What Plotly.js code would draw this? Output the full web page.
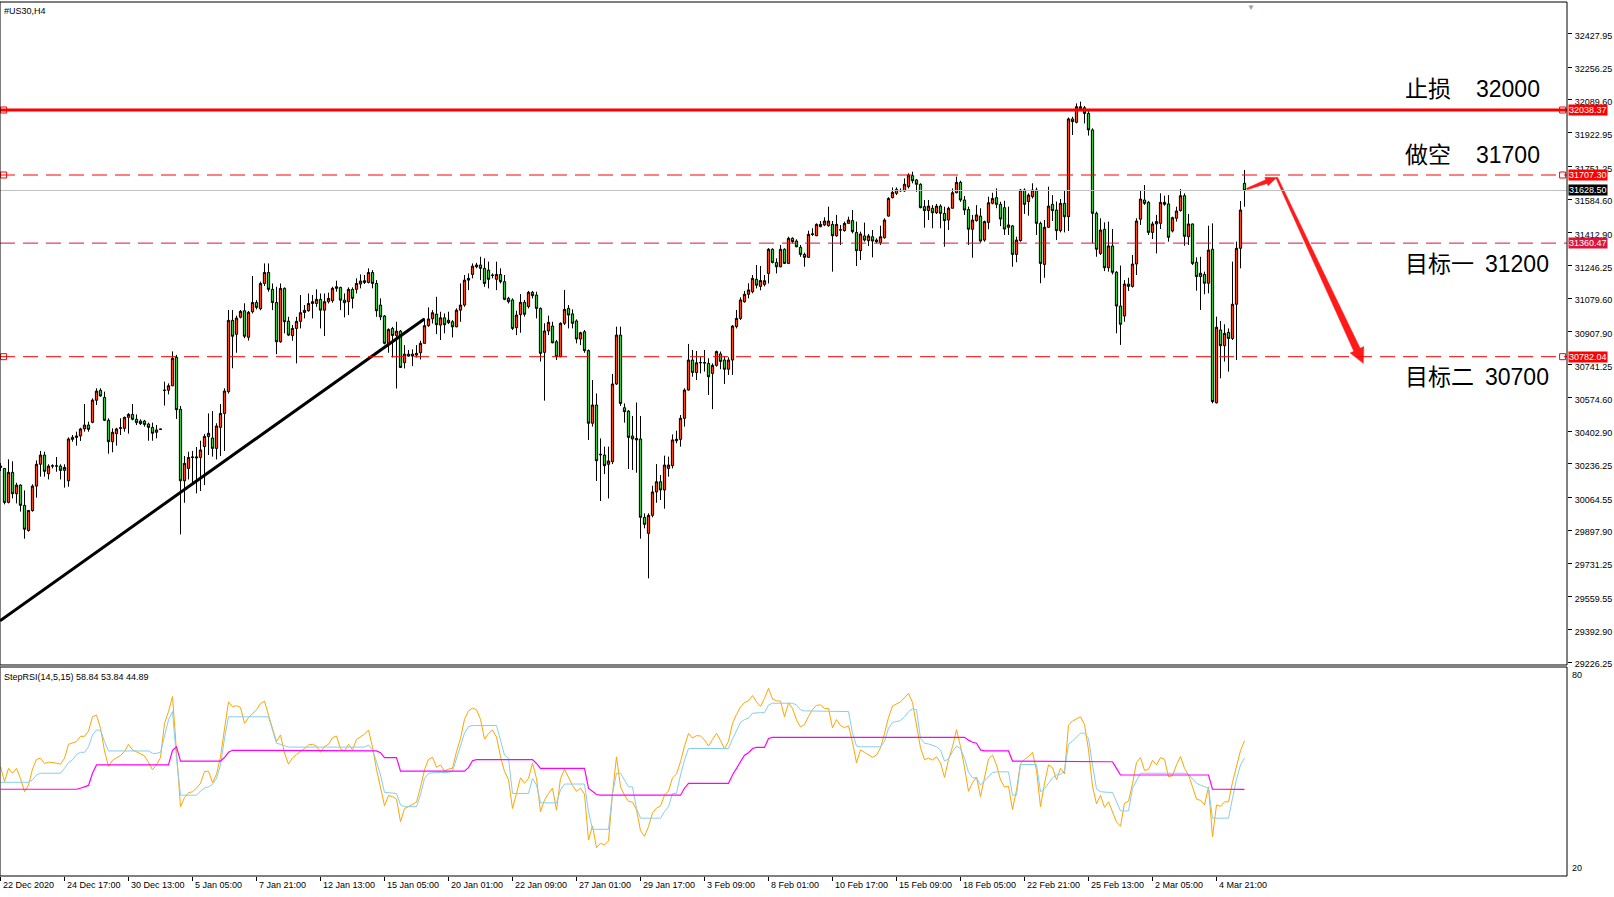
<!DOCTYPE html>
<html><head><meta charset="utf-8">
<script src="https://cdn.plot.ly/plotly-3.0.1.min.js"></script>
<style>html,body{margin:0;padding:0;background:#fff;overflow:hidden}#chart{width:1614px;height:897px}</style>
</head><body><div id="chart"></div>
<script>
// ---------- DATA ----------
const SYMBOL = "#US30,H4";
const OPEN = [
30225,30213,30040,30193,30084,30128,30025,29897,29998,30123,
30234,30281,30186,30225,30226,30225,30203,30150,30361,30371,
30378,30414,30434,30448,30560,30611,30575,30458,30349,30390,
30417,30417,30473,30488,30463,30454,30454,30439,30422,30397,
30412,30610,30611,30634,30779,30514,30150,30213,30269,30266,
30269,30324,30375,30368,30315,30422,30493,30604,30967,30896,
30983,31016,30881,31011,31058,31026,31155,31211,31125,31058,
30858,31130,30963,30889,30926,30962,31007,31016,31053,31053,
31074,31019,31062,31067,31130,31135,31070,31062,31125,31125,
31152,31160,31160,31211,31155,31045,30989,30850,30926,30890,
30912,30751,30785,30785,30790,30802,30850,30940,30975,30999,
30943,30980,30955,30960,30934,31019,31045,31172,31201,31240,
31249,31232,31223,31198,31176,31201,31164,31079,31071,30930,
30996,31059,31037,31110,31096,31028,30804,30913,30938,30858,
30782,30952,31028,31000,30964,30872,30909,30813,30443,30536,
30285,30281,30234,30247,30643,30892,30522,30505,30378,30366,
30363,29964,29882,29974,30093,30145,30103,30213,30227,30354,
30361,30468,30612,30765,30701,30751,30752,30748,30697,30738,
30796,30765,30718,30765,30935,30977,31062,31100,31113,31176,
31140,31150,31206,31329,31262,31240,31329,31257,31385,31371,
31339,31303,31288,31405,31398,31444,31453,31449,31456,31398,
31427,31424,31461,31475,31415,31322,31397,31373,31393,31376,
31363,31388,31498,31592,31614,31627,31626,31648,31704,31682,
31660,31546,31526,31538,31515,31549,31512,31478,31538,31617,
31670,31580,31532,31431,31475,31498,31376,31466,31563,31592,
31558,31541,31441,31448,31303,31373,31631,31572,31597,31631,
31461,31252,31441,31558,31529,31424,31563,31495,31993,31976,
32044,32050,32021,31937,31512,31308,31431,31235,31346,31212,
31040,30989,31152,31140,31254,31482,31580,31568,31415,31458,
31461,31568,31560,31422,31487,31526,31602,31393,31458,31263,
31190,31201,31156,31329,30547,30918,30838,30906,30875,31049,
31334,31665];
const HIGH = [
30240,30213,30259,30249,30140,30132,30101,30000,30132,30254,
30302,30298,30234,30234,30271,30234,30234,30371,30383,30400,
30420,30541,30451,30570,30621,30621,30604,30468,30417,30420,
30468,30477,30495,30541,30488,30463,30460,30446,30446,30434,
30415,30655,30646,30809,30791,30531,30276,30298,30302,30322,
30354,30388,30493,30505,30443,30541,30621,31020,31020,30991,
31020,31054,31015,31193,31070,31164,31257,31257,31155,31138,
31155,31135,30985,30943,30985,31096,31045,31104,31096,31125,
31104,31104,31108,31138,31169,31138,31104,31135,31135,31181,
31201,31198,31232,31223,31172,31079,30994,30926,30934,30960,
30918,30841,30816,30819,30841,30863,30977,31033,31019,31087,
31011,31002,31011,30968,31028,31155,31198,31206,31257,31260,
31291,31283,31266,31206,31266,31232,31198,31087,31079,31016,
31101,31071,31117,31117,31113,31033,30952,30991,30960,30867,
30957,31122,31045,31023,30972,30909,30918,30819,30663,30595,
30366,30324,30324,30694,30935,30935,30544,30510,30480,30549,
30480,29984,29984,30125,30235,30179,30278,30273,30386,30405,
30485,30621,30847,30816,30811,30782,30816,30774,30748,30813,
30808,30785,30779,30943,31020,31084,31117,31156,31198,31249,
31244,31198,31335,31334,31283,31351,31334,31393,31390,31380,
31351,31312,31424,31436,31461,31473,31492,31546,31473,31504,
31453,31470,31495,31529,31470,31419,31465,31407,31427,31385,
31449,31487,31594,31644,31644,31639,31690,31716,31724,31687,
31665,31580,31580,31554,31560,31558,31546,31546,31639,31699,
31678,31600,31546,31504,31554,31538,31475,31597,31617,31639,
31571,31576,31546,31453,31393,31636,31639,31614,31665,31643,
31470,31478,31648,31605,31572,31585,31628,32000,32004,32072,
32081,32059,32033,31945,31521,31487,31466,31470,31432,31218,
31246,31172,31184,31300,31487,31626,31656,31575,31470,31504,
31614,31602,31605,31495,31546,31636,31614,31509,31460,31288,
31291,31215,31449,31461,30986,30964,30947,30926,31266,31368,
31575,31733];
const LOW = [
30200,30030,30035,30060,30035,29993,29855,29891,29993,30064,
30171,30171,30157,30213,30196,30157,30115,30120,30349,30329,
30353,30400,30400,30443,30536,30578,30454,30288,30295,30329,
30383,30400,30390,30458,30434,30434,30426,30354,30354,30366,
30410,30533,30590,30632,30465,29877,30038,30157,30137,30086,
30098,30128,30281,30273,30259,30276,30302,30594,30723,30802,
30977,30876,30864,31002,31023,31019,31142,31113,31019,30795,
30853,30901,30887,30863,30748,30926,30977,31011,30977,31036,
30926,30887,31053,31057,31113,31019,30982,30994,31028,31104,
31130,31152,31155,31130,30985,30968,30845,30802,30778,30620,
30725,30722,30782,30734,30778,30768,30850,30934,30951,30897,
30867,30901,30948,30880,30932,30960,31036,31121,31181,31232,
31172,31138,31130,31181,31121,31155,31070,31053,30918,30892,
30904,30986,31028,31079,30977,30757,30558,30892,30850,30765,
30779,30943,30926,30926,30850,30841,30802,30358,30426,30149,
30047,30184,30060,30235,30638,30531,30446,30210,30205,30191,
29855,29908,29653,29964,30038,30052,30008,30171,30213,30341,
30324,30426,30609,30680,30663,30697,30706,30587,30515,30731,
30718,30643,30689,30689,30926,30969,31057,31079,31105,31130,
31120,31140,31155,31257,31206,31237,31254,31254,31359,31339,
31291,31240,31285,31397,31396,31441,31447,31444,31215,31393,
31351,31419,31458,31410,31244,31274,31368,31346,31288,31359,
31351,31383,31495,31588,31605,31622,31622,31639,31665,31622,
31538,31439,31478,31436,31509,31436,31342,31427,31538,31614,
31571,31504,31351,31286,31470,31363,31368,31431,31558,31538,
31447,31402,31402,31240,31263,31368,31509,31500,31588,31402,
31156,31184,31439,31473,31376,31415,31415,31422,31911,31970,
32033,31970,31908,31359,31291,31300,31218,31215,31201,30901,
30842,30960,31117,31134,31198,31453,31555,31402,31381,31308,
31432,31551,31368,31415,31470,31521,31347,31351,31249,31118,
31020,31100,31105,30544,30544,30672,30757,30706,30867,30765,
31232,31546];
const CLOSE = [
30218,30040,30193,30084,30128,30025,29903,29999,30123,30234,
30281,30198,30225,30226,30225,30203,30218,30363,30371,30378,
30414,30434,30412,30561,30607,30582,30458,30349,30397,30414,
30420,30473,30488,30463,30446,30441,30437,30422,30392,30409,
30413,30611,30634,30774,30512,30150,30239,30269,30271,30271,
30307,30376,30392,30315,30429,30493,30607,30967,30886,30979,
31013,30886,31008,31058,31033,31155,31211,31125,31058,30858,
31130,30960,30892,30926,30962,31006,31018,31053,31062,31074,
31019,31062,31079,31130,31138,31070,31057,31125,31079,31155,
31167,31169,31211,31155,31016,30985,30850,30921,30890,30912,
30727,30795,30795,30795,30799,30850,30940,30974,31006,30945,
30980,30945,30968,30934,31019,31045,31172,31181,31243,31249,
31232,31155,31176,31196,31201,31164,31074,31062,30926,30994,
31059,30998,31110,31093,31028,30799,30913,30957,30853,30782,
30952,31023,30994,30952,30872,30904,30813,30443,30536,30252,
30283,30227,30251,30643,30892,30544,30502,30371,30363,30358,
29964,29928,29974,30093,30145,30103,30230,30230,30358,30361,
30468,30612,30765,30702,30751,30752,30750,30680,30738,30808,
30758,30718,30765,30938,30977,31071,31100,31122,31181,31146,
31170,31169,31329,31262,31240,31329,31257,31385,31368,31342,
31303,31288,31405,31407,31456,31456,31473,31473,31398,31456,
31428,31461,31478,31419,31322,31407,31376,31397,31371,31368,
31393,31478,31588,31619,31634,31628,31660,31707,31678,31660,
31541,31526,31549,31515,31549,31512,31475,31538,31617,31670,
31580,31529,31431,31478,31504,31371,31470,31566,31588,31558,
31483,31432,31453,31303,31376,31631,31558,31605,31631,31461,
31257,31441,31549,31526,31424,31563,31495,31993,31979,32055,
32055,32021,31937,31512,31329,31427,31235,31346,31212,31040,
30947,31152,31140,31254,31473,31585,31563,31415,31458,31470,
31568,31558,31390,31490,31524,31602,31395,31458,31257,31190,
31207,31156,31325,30553,30932,30838,30901,30875,31049,31334,
31529,31628.5];

// StepRSI(14,5,15) buffers
const RSI_FAST = [
51.4,47.1,50.9,49.5,50.9,48.0,44.2,46.1,50.7,53.5,
53.8,52.3,52.7,52.6,52.4,52.1,53.8,57.8,58.1,58.6,
60.1,60.1,61.6,65.7,66.2,62.4,55.9,51.5,53.2,54.0,
54.6,55.7,57.8,56.2,55.6,55.2,54.5,52.6,50.5,51.9,
54.0,63.8,67.2,71.5,54.3,39.9,42.5,43.9,44.2,45.2,
46.6,50.0,50.1,46.8,49.2,54.2,62.2,70.0,68.6,68.9,
68.4,63.8,65.5,66.7,67.7,69.5,70.2,66.2,62.4,58.6,
60.5,55.3,52.1,53.9,54.9,55.7,56.6,57.6,57.8,57.3,
55.5,57.2,57.8,59.7,60.2,56.5,55.9,57.8,56.2,59.2,
60.0,60.7,61.9,57.0,50.6,45.5,40.2,43.1,42.8,42.1,
35.6,39.3,39.9,40.4,41.2,45.5,50.5,53.5,54.1,51.2,
51.9,50.1,50.7,50.9,55.7,59.5,65.0,67.4,68.2,67.7,
65.0,59.3,60.9,61.9,59.9,54.3,50.0,47.7,39.4,43.7,
48.2,46.6,48.0,52.4,48.0,38.5,41.8,43.7,45.2,38.9,
48.0,50.6,48.2,46.0,44.3,45.2,43.5,30.3,34.4,28.1,
29.4,28.9,30.1,43.7,54.2,45.6,43.2,41.4,41.2,39.0,
33.0,31.4,34.2,38.1,39.5,40.1,43.2,44.4,48.2,49.3,
52.8,57.3,60.9,59.6,60.3,60.2,59.1,57.3,59.2,61.0,
58.9,56.5,58.7,63.8,66.4,68.5,69.8,70.3,71.8,70.0,
68.7,71.0,73.9,70.8,70.3,70.2,65.7,69.7,68.1,64.8,
62.8,63.5,65.8,67.8,69.0,69.1,68.1,68.1,62.5,64.9,
63.2,62.6,63.1,58.4,52.5,56.2,55.5,54.9,54.1,54.7,
56.8,60.9,65.5,68.8,69.3,70.0,71.2,72.4,69.8,63.7,
56.8,53.4,53.8,53.3,54.2,52.5,48.3,53.4,57.1,62.0,
57.2,51.2,44.3,46.8,48.4,42.8,48.0,53.6,54.7,51.9,
47.6,45.5,45.8,39.1,44.7,52.3,53.5,54.3,55.5,50.3,
39.9,46.6,51.9,51.1,47.6,50.9,49.3,63.3,64.5,65.1,
65.7,63.5,56.2,45.8,40.7,43.2,39.7,41.3,38.2,35.5,
34.3,40.9,41.5,46.5,52.6,54.0,50.3,50.6,53.2,51.9,
54.0,53.5,48.5,48.8,51.9,54.3,50.9,49.0,45.6,42.1,
41.7,40.4,45.6,31.3,40.4,40.0,41.3,41.3,46.9,51.7,
56.0,58.84];
const RSI_STEP_FAST = [
46.9,46.9,46.9,46.9,46.9,46.9,46.9,46.9,47.6,49.0,
49.5,49.5,49.5,49.5,49.5,49.5,50.9,52.6,53.3,54.9,
55.5,55.5,57.1,60.5,61.9,61.9,58.6,55.9,55.9,55.9,
55.9,55.9,55.9,55.9,55.9,55.9,55.9,55.9,55.2,55.2,
55.5,60.0,64.8,67.2,53.8,43.2,43.2,43.2,43.2,43.2,
44.4,45.2,45.6,46.3,48.0,51.9,59.5,65.7,65.7,65.7,
65.7,65.7,65.7,65.7,65.7,65.7,65.7,65.7,61.9,58.1,
57.8,57.3,57.0,57.0,57.0,57.0,57.0,57.0,57.0,57.0,
57.0,57.0,57.0,57.0,57.0,57.0,57.0,57.0,57.0,57.0,
57.0,57.0,57.6,56.2,52.8,49.0,44.0,43.9,43.9,43.7,
40.4,39.9,39.9,39.9,39.9,43.3,48.0,49.5,49.7,49.7,
49.7,49.7,49.7,50.1,53.8,57.6,61.0,62.9,63.2,63.2,
63.2,63.2,63.2,63.2,63.2,59.0,54.7,53.8,43.7,43.7,
43.7,43.7,43.7,48.0,46.1,41.0,41.0,41.0,41.0,41.0,
44.7,46.4,46.4,46.4,46.4,46.4,46.4,38.5,33.4,33.4,
33.4,33.4,33.4,43.7,49.5,49.5,47.6,45.6,45.6,39.4,
36.6,36.6,36.6,36.6,36.6,36.6,38.5,39.9,43.7,43.7,
49.0,53.3,56.6,56.6,56.6,56.6,56.6,56.6,56.6,56.6,
56.6,56.6,56.6,59.3,61.7,64.1,64.9,65.3,66.7,66.9,
66.9,66.9,69.1,69.6,69.6,69.6,69.6,69.6,69.6,69.1,
67.7,67.4,67.4,67.4,67.4,67.4,67.4,67.4,67.4,67.4,
67.4,67.4,67.2,61.0,57.3,57.1,57.1,57.1,57.1,57.1,
57.1,58.6,62.4,64.1,64.3,64.6,65.7,67.2,68.0,67.7,
59.5,58.1,57.9,57.6,57.1,56.2,53.0,53.6,55.7,57.3,
56.6,53.8,49.8,48.2,48.2,46.1,47.3,48.7,49.7,49.9,
49.9,49.9,49.9,43.2,43.2,52.0,52.0,52.0,52.0,52.0,
44.2,45.0,46.6,48.2,49.0,49.2,50.3,57.8,58.7,59.8,
61.0,61.0,59.5,51.9,45.0,44.2,44.0,44.0,44.0,41.3,
38.7,38.7,38.7,45.2,47.3,49.5,49.5,49.5,49.5,49.5,
49.5,49.5,49.5,49.5,49.5,49.5,49.5,49.2,48.0,46.6,
46.1,45.6,45.2,36.6,36.6,36.6,36.6,36.6,42.3,47.8,
51.9,53.84];
const RSI_STEP_SLOW = [
44.9,44.9,44.9,44.9,44.9,44.9,44.9,44.9,44.9,44.9,
44.9,44.9,44.9,44.9,44.9,44.9,44.9,44.9,44.9,44.9,
45.2,45.5,46.0,49.5,51.9,51.9,51.9,51.9,51.9,51.9,
51.9,51.9,51.9,51.9,51.9,51.9,51.9,51.9,51.9,51.9,
51.9,51.9,51.9,56.1,57.1,53.0,53.0,53.0,53.0,53.0,
53.0,53.0,53.0,53.0,53.0,53.0,54.0,55.5,56.1,56.1,
56.1,56.1,56.1,56.1,56.1,56.1,56.1,56.1,56.1,56.1,
56.1,56.1,56.1,56.1,56.1,56.1,56.1,56.1,56.1,56.1,
56.1,56.1,56.1,56.1,56.1,56.1,56.1,56.1,56.1,56.1,
56.1,56.1,56.1,56.1,55.9,55.4,54.0,54.0,54.0,54.0,
50.1,50.1,50.1,50.1,50.1,50.1,50.1,50.1,50.1,50.1,
50.1,50.1,50.1,50.1,50.1,50.1,50.1,51.1,53.1,53.4,
53.4,53.4,53.4,53.4,53.4,53.4,53.4,53.4,53.4,53.4,
53.4,53.4,53.4,53.4,52.3,50.9,50.9,50.9,50.9,50.9,
50.9,50.9,50.9,50.9,50.9,50.9,50.9,45.2,44.4,43.4,
43.2,43.2,43.2,43.2,43.2,43.2,43.2,43.2,43.2,43.2,
43.2,43.2,43.2,43.2,43.2,43.2,43.2,43.2,43.2,43.2,
43.2,45.2,46.6,46.6,46.6,46.6,46.6,46.6,46.6,46.6,
46.6,46.6,46.6,49.0,50.9,52.8,54.7,55.4,56.6,56.9,
56.9,56.9,59.5,59.8,59.8,59.8,59.8,59.8,59.8,59.8,
59.8,59.8,59.8,59.8,59.8,59.8,59.8,59.8,59.8,59.8,
59.8,59.8,59.8,59.8,59.8,59.8,59.8,59.8,59.8,59.8,
59.8,59.8,59.8,59.8,59.8,59.8,59.8,59.8,59.8,59.8,
59.8,59.8,59.8,59.8,59.8,59.8,59.8,59.8,59.8,59.8,
59.8,59.8,59.0,58.4,58.1,56.2,55.9,55.9,55.9,55.9,
55.9,55.9,55.9,53.0,53.0,53.0,53.0,53.0,53.0,53.0,
53.0,53.0,53.0,53.0,53.0,53.0,53.0,53.0,53.0,53.0,
53.0,53.0,53.0,53.0,53.0,53.0,53.0,53.0,52.8,50.9,
49.0,49.0,49.0,49.0,49.0,49.0,49.0,49.0,49.0,49.0,
49.0,49.0,49.0,49.0,49.0,49.0,49.0,49.0,49.0,49.0,
49.0,49.0,49.0,44.9,44.9,44.9,44.9,44.9,44.9,44.9,
44.9,44.89];

// time axis labels (one every 16 bars)
const TICK_BARS = [0,16,32,48,64,80,96,112,128,144,160,176,192,208,224,240,256,272,288,304];
const TICK_LABELS = ["22 Dec 2020","24 Dec 17:00","30 Dec 13:00","5 Jan 05:00","7 Jan 21:00","12 Jan 13:00","15 Jan 05:00","20 Jan 01:00","22 Jan 09:00","27 Jan 01:00","29 Jan 17:00","3 Feb 09:00","8 Feb 01:00","10 Feb 17:00","15 Feb 09:00","18 Feb 05:00","22 Feb 21:00","25 Feb 13:00","2 Mar 05:00","4 Mar 21:00"];
// price scale labels
const PRICE_TICKS = [32427.95,32256.25,32089.60,31922.95,31751.25,31584.60,31412.90,31246.25,31079.60,30907.90,30741.25,30574.60,30402.90,30236.25,30064.55,29897.90,29731.25,29559.55,29392.90,29226.25];
// horizontal levels
const LEVELS = [32038.37, 31707.30, 31360.47, 30782.04];
const BID = 31628.50;
// plan texts
const PLAN_NAMES = ["止损","做空","目标一","目标二"];
const PLAN_VALUES = ["32000","31700","31200","30700"];
const PLAN_TEXT_PRICE = [32143, 31807, 31256, 30680];
// drawn objects (bar index, price)
const TREND_X = [-0.125, 105.95];
const TREND_Y = [29437, 30974];
const ARROW_X = [311.6, 319.05, 340.7];
const ARROW_Y = [31636, 31694, 30748];

// ---------- STYLE / BUILD ----------
const BARS = OPEN.map((_, i) => i);
const XR = [-0.125, 391.625];
const YR = [29211.8, 32588.4];
const PLOT_W = 1567, MAIN_H = 663;
const FONT = 'Liberation Sans, Arial, sans-serif';
const CJK = 'Liberation Sans, Noto Sans CJK SC, sans-serif';
const LEVEL_STYLE = [
  {color:'#FF0000', width:3, dash:'solid', tag:'#FF0000', sel:true},
  {color:'#FF0000', width:1, dash:'15px,8px', tag:'#FF0000', sel:true},
  {color:'#DC143C', width:1, dash:'15px,8px', tag:'#DC143C', sel:false},
  {color:'#FF0000', width:1, dash:'15px,8px', tag:'#FF0000', sel:true}
];
// arrow segment styles: tail width, shaft end width, head length, head width (px)
const ARROW_STYLE = [
  {w0:1.5, w1:4, hl:11, hw:9},
  {w0:2, w1:7, hl:15, hw:15}
];
const yMainDom = [0.24142, 1];
const yRsiDom = [0, 0.23913];

const kx = PLOT_W / (XR[1] - XR[0]);
const ky = MAIN_H / (YR[1] - YR[0]);
const toPx = (x, y) => [(x - XR[0]) * kx, (YR[1] - y) * ky];
const toData = (px, py) => [px / kx + XR[0], YR[1] - py / ky];

const traces = [
  {type:'candlestick', x:BARS, open:OPEN, high:HIGH, low:LOW, close:CLOSE, xaxis:'x', yaxis:'y',
   increasing:{line:{color:'#000000', width:1}, fillcolor:'#FF4500'},
   decreasing:{line:{color:'#000000', width:1}, fillcolor:'#32CD32'},
   whiskerwidth:0, hoverinfo:'skip', showlegend:false},
  {type:'scatter', mode:'lines', x:TREND_X, y:TREND_Y, xaxis:'x', yaxis:'y',
   line:{color:'#000000', width:3}, hoverinfo:'skip'},
  {type:'scatter', mode:'lines', x:BARS, y:RSI_FAST, xaxis:'x', yaxis:'y2',
   line:{color:'#FFA500', width:1}, hoverinfo:'skip'},
  {type:'scatter', mode:'lines', x:BARS, y:RSI_STEP_FAST, xaxis:'x', yaxis:'y2',
   line:{color:'#87CEEB', width:1}, hoverinfo:'skip'},
  {type:'scatter', mode:'lines', x:BARS, y:RSI_STEP_SLOW, xaxis:'x', yaxis:'y2',
   line:{color:'#FF00FF', width:1.2}, hoverinfo:'skip'}
];
// tapered arrows as filled polygons
for (let k = 0; k < ARROW_X.length - 1; k++) {
  const s = ARROW_STYLE[k];
  const A = toPx(ARROW_X[k], ARROW_Y[k]);
  const B = toPx(ARROW_X[k+1], ARROW_Y[k+1]);
  const dx = B[0] - A[0], dy = B[1] - A[1], L = Math.hypot(dx, dy);
  const ux = dx / L, uy = dy / L, nx = -uy, ny = ux;
  const S = [B[0] - ux * s.hl, B[1] - uy * s.hl];
  const pts = [
    [A[0] + nx * s.w0 / 2, A[1] + ny * s.w0 / 2],
    [S[0] + nx * s.w1 / 2, S[1] + ny * s.w1 / 2],
    [S[0] + nx * s.hw / 2, S[1] + ny * s.hw / 2],
    B,
    [S[0] - nx * s.hw / 2, S[1] - ny * s.hw / 2],
    [S[0] - nx * s.w1 / 2, S[1] - ny * s.w1 / 2],
    [A[0] - nx * s.w0 / 2, A[1] - ny * s.w0 / 2]
  ].map(p => toData(p[0], p[1]));
  pts.push(pts[0]);
  traces.push({type:'scatter', mode:'lines', x:pts.map(p => p[0]), y:pts.map(p => p[1]), xaxis:'x', yaxis:'y',
    fill:'toself', fillcolor:'#FF1A1A', line:{color:'#FF1A1A', width:0.5}, hoverinfo:'skip'});
}
// selection squares on selected levels
const selY = [], selX = [];
LEVELS.forEach((lv, k) => { if (LEVEL_STYLE[k].sel) { selX.push(XR[0] + 0.9, XR[1] - 1.1); selY.push(lv, lv); } });
traces.push({type:'scatter', mode:'markers', x:selX, y:selY, xaxis:'x', yaxis:'y', cliponaxis:false,
  marker:{symbol:'square-open', size:6, color:'#FF0000', line:{width:1, color:'#FF0000'}}, hoverinfo:'skip'});

const shapes = [];
shapes.push({type:'line', xref:'paper', x0:0, x1:1, yref:'y', y0:BID, y1:BID, line:{color:'#C0C0C0', width:1}});
LEVELS.forEach((lv, k) => {
  const s = LEVEL_STYLE[k];
  shapes.push({type:'line', xref:'paper', x0:0, x1:1, yref:'y', y0:lv, y1:lv, line:{color:s.color, width:s.width, dash:s.dash}});
});
shapes.push({type:'rect', xref:'paper', yref:'paper', x0:0, x1:1, y0:yMainDom[0], y1:yMainDom[1], line:{color:'#000', width:1}});
shapes.push({type:'rect', xref:'paper', yref:'paper', x0:0, x1:1, y0:yRsiDom[0], y1:yRsiDom[1], line:{color:'#000', width:1}});

const ann = [];
LEVELS.forEach((lv, k) => {
  ann.push({xref:'paper', x:1, xanchor:'left', xshift:1, yref:'y', y:lv, yanchor:'middle', text:lv.toFixed(2),
    showarrow:false, bgcolor:LEVEL_STYLE[k].tag, borderpad:0, font:{family:FONT, size:9, color:'#FFFFFF'}});
});
ann.push({xref:'paper', x:1, xanchor:'left', xshift:1, yref:'y', y:BID, yanchor:'middle', text:BID.toFixed(2),
  showarrow:false, bgcolor:'#000000', borderpad:0, font:{family:FONT, size:9, color:'#FFFFFF'}});
PLAN_NAMES.forEach((nm, k) => {
  ann.push({xref:'x', x:350.6, xanchor:'left', yref:'y', y:PLAN_TEXT_PRICE[k], yanchor:'middle', text:nm,
    showarrow:false, font:{family:CJK, size:23, color:'#000'}});
  ann.push({xref:'x', x:(k < 2 ? 385.4 : 387.6), xanchor:'right', yref:'y', y:PLAN_TEXT_PRICE[k], yanchor:'middle', text:PLAN_VALUES[k],
    showarrow:false, font:{family:CJK, size:23, color:'#000'}});
});
TICK_BARS.forEach((b, k) => {
  ann.push({xref:'x', x:b, xanchor:'left', xshift:0, yref:'paper', y:0, yanchor:'top', yshift:-2,
    text:TICK_LABELS[k], showarrow:false, font:{family:FONT, size:9, color:'#000'}});
});
ann.push({xref:'paper', x:1, xanchor:'left', xshift:3, yref:'y2', y:80, yanchor:'top', yshift:-1, text:'80', showarrow:false, font:{family:FONT, size:9, color:'#000'}});
ann.push({xref:'paper', x:1, xanchor:'left', xshift:3, yref:'y2', y:20, yanchor:'bottom', yshift:1, text:'20', showarrow:false, font:{family:FONT, size:9, color:'#000'}});
ann.push({xref:'paper', x:0, xanchor:'left', xshift:2, yref:'paper', y:1, yanchor:'top', yshift:-2, text:SYMBOL, showarrow:false, font:{family:FONT, size:9, color:'#000'}});
const rsiTitle = 'StepRSI(14,5,15) ' + RSI_FAST[RSI_FAST.length-1].toFixed(2) + ' ' + RSI_STEP_FAST[RSI_STEP_FAST.length-1].toFixed(2) + ' ' + RSI_STEP_SLOW[RSI_STEP_SLOW.length-1].toFixed(2);
ann.push({xref:'paper', x:0, xanchor:'left', xshift:2, yref:'y2', y:80, yanchor:'top', yshift:-3, text:rsiTitle, showarrow:false, font:{family:FONT, size:9, color:'#000'}});
ann.push({xref:'x', x:312.6, xanchor:'center', yref:'paper', y:1, yanchor:'top', yshift:1, text:'▼', showarrow:false, font:{family:FONT, size:8, color:'#A0A0A0'}});

const layout = {
  width:1614, height:897, margin:{l:0, r:47, t:2, b:21, pad:0},
  paper_bgcolor:'#FFFFFF', plot_bgcolor:'#FFFFFF', showlegend:false, boxgap:0.2,
  font:{family:FONT, size:9, color:'#000'},
  xaxis:{anchor:'y2', range:XR, showgrid:false, zeroline:false, showline:false,
    ticks:'outside', ticklen:4, tickcolor:'#000', tickvals:TICK_BARS, showticklabels:false,
    rangeslider:{visible:false}, fixedrange:true},
  yaxis:{domain:yMainDom, range:YR, side:'right', showgrid:false, zeroline:false, showline:false,
    ticks:'outside', ticklen:4, tickcolor:'#000', tickvals:PRICE_TICKS, ticktext:PRICE_TICKS.map(v => v.toFixed(2)),
    ticklabelshift:2, ticklabelstandoff:1, tickfont:{family:FONT, size:9, color:'#000'}, fixedrange:true},
  yaxis2:{domain:yRsiDom, range:[20, 80], side:'right', showgrid:false, zeroline:false, showline:false,
    showticklabels:false, ticks:'', fixedrange:true},
  shapes:shapes, annotations:ann
};
Plotly.newPlot('chart', traces, layout, {displayModeBar:false, staticPlot:true});
</script>
</body></html>
